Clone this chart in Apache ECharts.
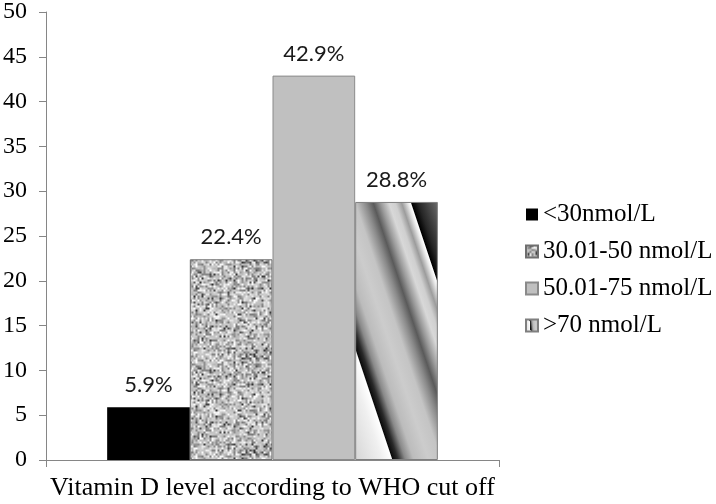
<!DOCTYPE html>
<html>
<head>
<meta charset="utf-8">
<script src="https://cdn.jsdelivr.net/npm/echarts@6/dist/echarts.min.js"></script>
<style>
html,body{margin:0;padding:0;background:#fff;}
#chart{width:716px;height:504px;}
</style>
</head>
<body>
<div id="chart"></div>
<script>
// ---- data ----
const categories = ['Vitamin D level according to WHO cut off'];
const seriesNames = ['<30nmol/L', '30.01-50 nmol/L', '50.01-75 nmol/L', '>70 nmol/L'];
const values = [5.9, 22.4, 42.9, 28.8];
const yMin = 0, yMax = 50, yInterval = 5;

// ---- textures (styling only) ----
function makeSpeckle() {
  const n = 48, k = 2, N = n * k;
  let seed = 97531;
  function rnd() { seed = (seed * 1103515245 + 12345) & 0x7fffffff; return seed / 0x7fffffff; }
  const g = new Float32Array(n * n);
  for (let i = 0; i < n * n; i++) {
    const r = rnd();
    if (r < 0.07) g[i] = 45 + rnd() * 50;
    else if (r < 0.32) g[i] = 120 + rnd() * 35;
    else if (r < 0.78) g[i] = 180 + rnd() * 30;
    else g[i] = 220 + rnd() * 35;
  }
  const c = document.createElement('canvas');
  c.width = N; c.height = N;
  const ctx = c.getContext('2d');
  const img = ctx.createImageData(N, N);
  for (let y = 0; y < N; y++) {
    for (let x = 0; x < N; x++) {
      const fx = x / k, fy = y / k;
      const x0 = Math.floor(fx), y0 = Math.floor(fy);
      const tx = fx - x0, ty = fy - y0;
      const x1 = (x0 + 1) % n, y1 = (y0 + 1) % n;
      const v = g[y0*n+x0]*(1-tx)*(1-ty) + g[y0*n+x1]*tx*(1-ty) + g[y1*n+x0]*(1-tx)*ty + g[y1*n+x1]*tx*ty;
      const j = (y * N + x) * 4;
      img.data[j] = img.data[j+1] = img.data[j+2] = v;
      img.data[j+3] = 255;
    }
  }
  ctx.putImageData(img, 0, 0);
  return c;
}
const speckle = makeSpeckle();

function stripeGradient() {
  const L = 161;
  const stops = [
    [0, '#d6d6d6'], [26, '#f0f0f0'], [35, '#ffffff'], [36, '#0a0a0a'],
    [41, '#2a2a2a'], [48, '#8a8a8a'], [56, '#bcbcbc'], [70, '#cccccc'],
    [82, '#c4c4c4'], [92, '#8a8a8a'], [99, '#5a5a5a'], [106, '#9a9a9a'],
    [114, '#d8d8d8'], [120, '#cfcfcf'], [126, '#9c9c9c'], [132, '#e8e8e8'],
    [134.5, '#ffffff'], [135.5, '#000000'], [142, '#262626'], [161, '#6c6c6c']
  ];
  return {
    type: 'linear', x: 0, y: 1, x2: 1.84, y2: 0.803,
    colorStops: stops.map(s => ({ offset: s[0] / L, color: s[1] }))
  };
}

const fills = [
  '#000000',
  { image: speckle, repeat: 'repeat' },
  '#c0c0c0',
  stripeGradient()
];
const borders = ['#000000', '#6f6f6f', '#8a8a8a', '#7f7f7f'];

const chart = echarts.init(document.getElementById('chart'), null, { renderer: 'canvas' });
const option = {
  animation: false,
  backgroundColor: '#ffffff',
  grid: { left: 43, right: 217, top: 10, bottom: 44, containLabel: false },
  legend: {
    orient: 'vertical',
    left: 520,
    top: 197,
    itemWidth: 12,
    itemHeight: 12,
    itemGap: 12,
    icon: 'rect',
    data: seriesNames,
    textStyle: { fontFamily: 'Liberation Serif', fontSize: 25, color: '#000', lineHeight: 22 }
  },
  xAxis: {
    type: 'category',
    data: categories,
    axisLine: { lineStyle: { color: '#868686', width: 1 } },
    axisTick: { show: true, length: 7, lineStyle: { color: '#868686' } },
    axisLabel: { fontFamily: 'Liberation Serif', fontSize: 26, color: '#000', margin: 15 }
  },
  yAxis: {
    type: 'value',
    min: yMin, max: yMax, interval: yInterval,
    axisLine: { show: true, lineStyle: { color: '#868686', width: 1 } },
    axisTick: { show: true, length: 7, lineStyle: { color: '#868686' } },
    splitLine: { show: false },
    axisLabel: { fontFamily: 'Liberation Serif', fontSize: 24, color: '#000', margin: 19 }
  },
  series: seriesNames.map((name, i) => ({
    name: name,
    type: 'bar',
    data: [values[i]],
    barGap: '0%',
    barCategoryGap: '27%',
    itemStyle: { color: fills[i], borderColor: borders[i], borderWidth: i === 0 ? 0 : 1 },
    label: {
      show: true, position: 'top', distance: 11,
      formatter: p => p.value + '%',
      fontFamily: 'Lato', fontSize: 22, color: '#1a1a1a'
    }
  }))
};
chart.setOption(option);
</script>
</body>
</html>
